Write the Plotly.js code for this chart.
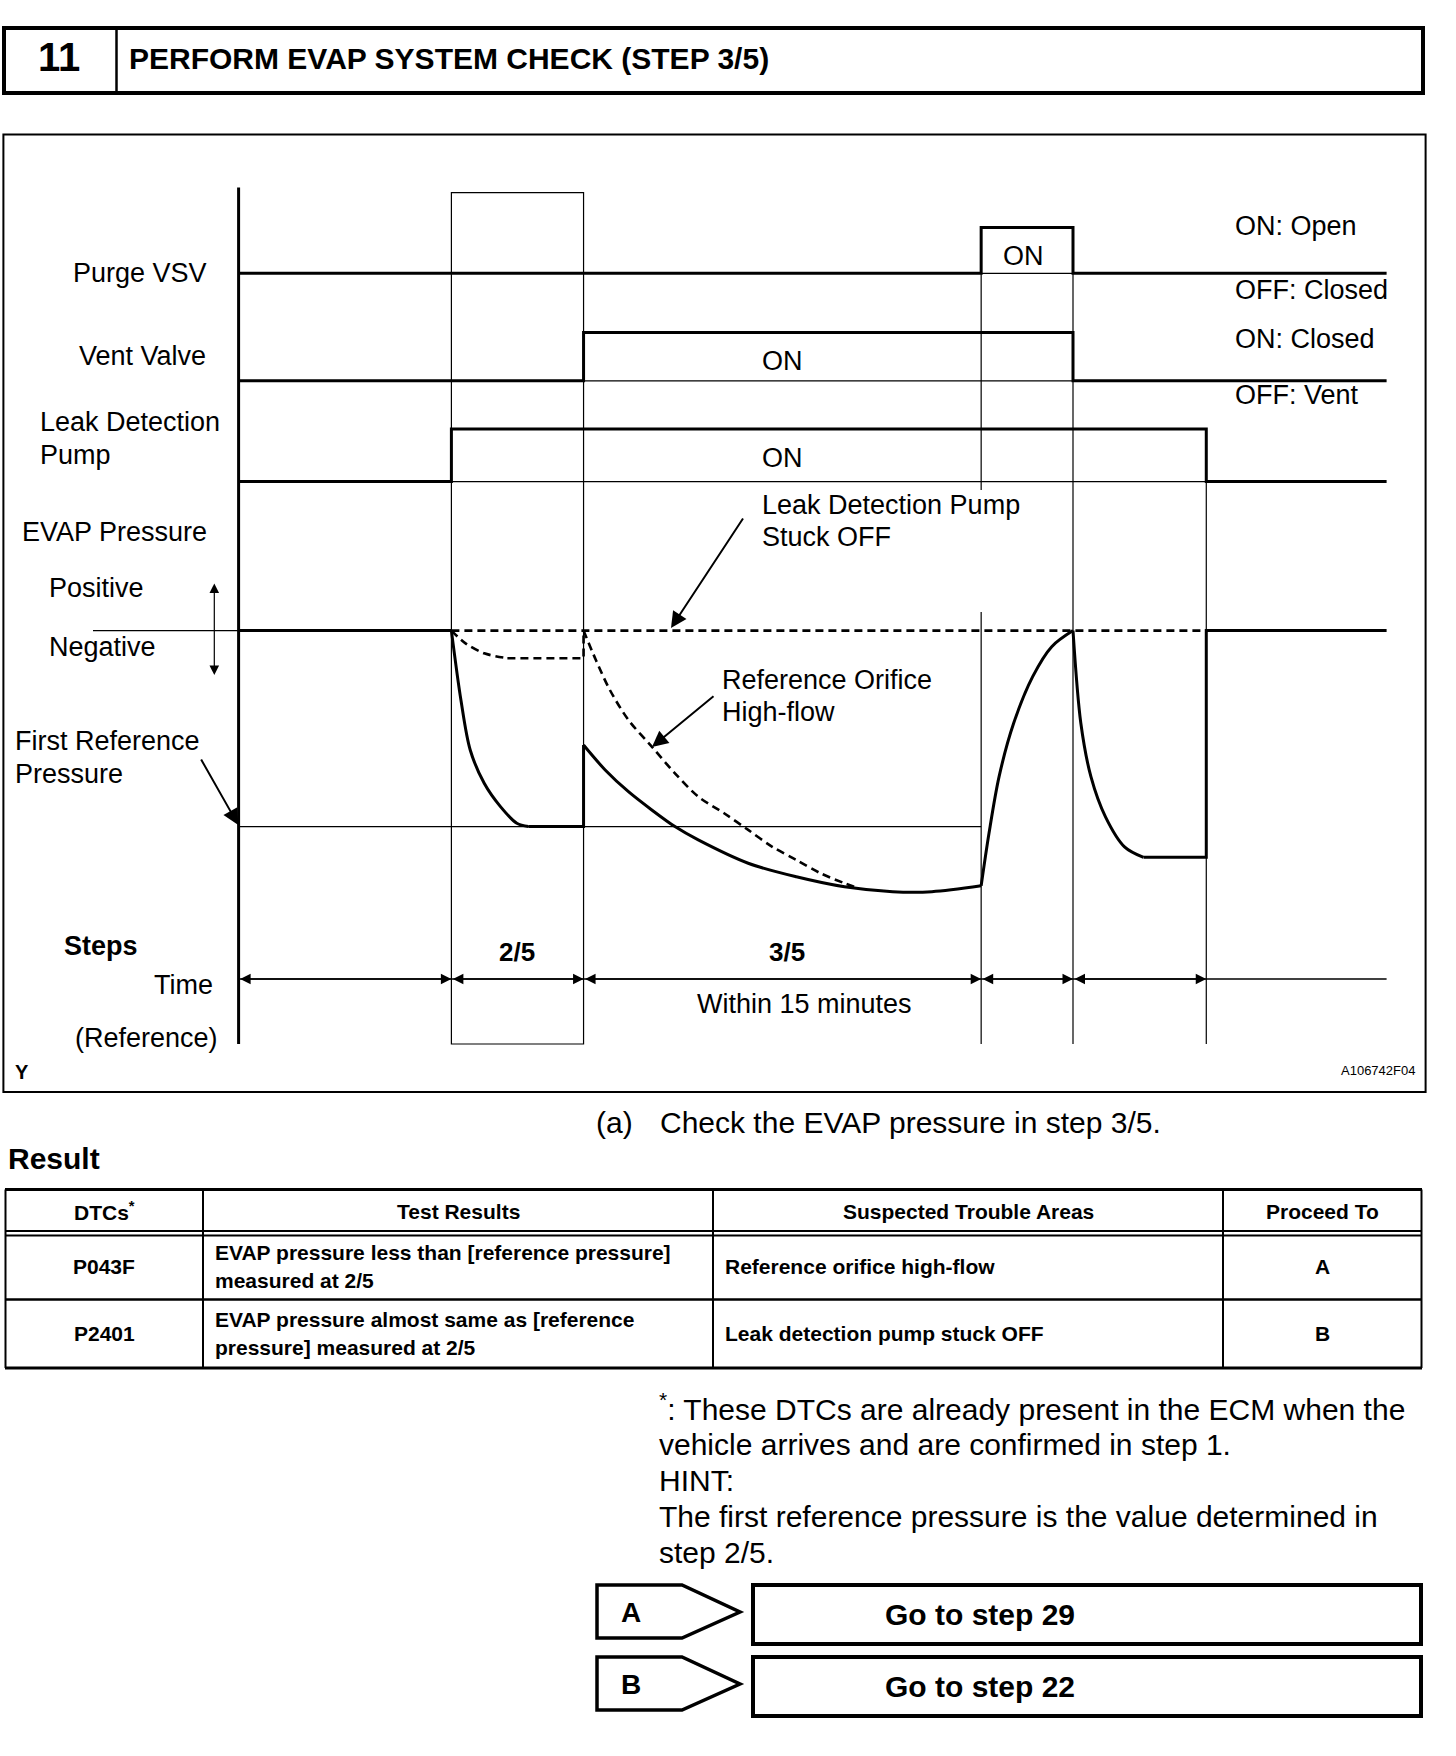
<!DOCTYPE html>
<html><head><meta charset="utf-8">
<script src="https://cdn.plot.ly/plotly-3.0.1.min.js"></script>
<style>html,body{margin:0;padding:0;background:#fff;}#chart{width:1456px;height:1756px;}</style>
</head><body><div id="chart"></div>
<script>
// ---------------- data ----------------
const phaseBounds = [0, 19.0, 30.8, 66.3, 74.5, 86.4];   // time marks (arbitrary units)
const timeEnd = 102.5;
const stepLabels = ['2/5', '3/5'];
const stepLabelT = [24.9, 49.0];

// on/off signals (0 = OFF, 1 = ON)
const purgeT = [0, 66.3, 66.3, 74.5, 74.5, 102.5];
const purgeState = [0, 0, 1, 1, 0, 0];
const ventT = [0, 30.8, 30.8, 74.5, 74.5, 102.5];
const ventState = [0, 0, 1, 1, 0, 0];
const pumpT = [0, 19.0, 19.0, 86.4, 86.4, 102.5];
const pumpState = [0, 0, 1, 1, 0, 0];

// EVAP pressure (0 = atmospheric, -1 = first reference pressure)
const refPressure = -1.0;
const evapIdleT = [0, 19.0];
const evapIdleP = [0, 0];
const evapStep2T = [19.0, 19.85, 20.68, 21.93, 23.38, 24.84, 25.88];
const evapStep2P = [0, -0.354, -0.609, -0.779, -0.898, -0.983, -1.0];
const evapHoldT = [25.88, 30.8, 30.8];
const evapHoldP = [-1.0, -1.0, -0.584];
const evapStep3T = [30.8, 32.73, 34.81, 36.89, 38.96, 41.04, 45.5, 49.8, 54.1, 58.4, 61.9, 66.3];
const evapStep3P = [-0.584, -0.711, -0.822, -0.915, -1.0, -1.068, -1.187, -1.256, -1.307, -1.332, -1.332, -1.302];
const evapPurgeT = [66.3, 67.0, 67.9, 69.2, 70.9, 72.6, 74.5];
const evapPurgeP = [-1.302, -1.034, -0.745, -0.473, -0.235, -0.082, 0];
const evapStep4T = [74.5, 75.2, 76.1, 77.4, 79.1, 80.8];
const evapStep4P = [0, -0.473, -0.745, -0.950, -1.103, -1.157];
const evapEndT = [80.8, 86.4, 86.4, 102.5];
const evapEndP = [-1.157, -1.157, 0, 0];
// dashed: reference orifice high-flow
const orificeStep2T = [19.0, 20.26, 21.93, 24.0];
const orificeStep2P = [0, -0.065, -0.116, -0.141];
const orificeHoldT = [24.0, 30.8, 30.8];
const orificeHoldP = [-0.141, -0.141, 0];
const orificeStep3T = [30.8, 31.9, 33.15, 34.81, 36.89, 38.96, 41.04, 43.35, 45.5, 47.65, 49.8, 51.96, 54.1, 55.4];
const orificeStep3P = [0, -0.150, -0.303, -0.456, -0.592, -0.728, -0.847, -0.932, -1.017, -1.103, -1.170, -1.238, -1.289, -1.315];
// dashed: leak detection pump stuck OFF
const stuckOffT = [19.0, 86.4];
const stuckOffP = [0, 0];

// table content
const tableHeaders = ['DTCs<sup>*</sup>', 'Test Results', 'Suspected Trouble Areas', 'Proceed To'];
const dtcCodes = ['P043F', 'P2401'];
const testResults = [['EVAP pressure less than [reference pressure]', 'measured at 2/5'],
                     ['EVAP pressure almost same as [reference', 'pressure] measured at 2/5']];
const troubleAreas = ['Reference orifice high-flow', 'Leak detection pump stuck OFF'];
const proceedTo = ['A', 'B'];
const gotoSteps = ['Go to step 29', 'Go to step 22'];
const footLines = ['<sup>*</sup>: These DTCs are already present in the ECM when the',
                   'vehicle arrives and are confirmed in step 1.',
                   'HINT:',
                   'The first reference pressure is the value determined in',
                   'step 2/5.'];

// ---------------- layout helpers ----------------
const W = 1456, H = 1756;
const FONT = 'Liberation Sans, Arial, Helvetica, sans-serif';
const T0PX = 238.6, PX_PER_T = 11.2;
const pX = v => v / W;
const pY = v => 1 - v / H;
function levelAxis(zeroPx, unitPx, topPx, botPx) {
  return {domain: [pY(botPx), pY(topPx)], range: [-(botPx - zeroPx) / unitPx, (zeroPx - topPx) / unitPx],
          visible: false, fixedrange: true, anchor: 'x'};
}
function tr(x, y, yaxis, extra) {
  return {type: 'scatter', mode: 'lines', x: x, y: y, xaxis: 'x', yaxis: yaxis, hoverinfo: 'skip',
          line: Object.assign({color: '#000', width: 3}, extra || {})};
}
const DASH = {dash: '8px,5px', width: 2.6};
const SPL = {shape: 'spline', smoothing: 0.9};

const traces = [
  tr(purgeT, purgeState, 'y2'),
  tr(ventT, ventState, 'y3'),
  tr(pumpT, pumpState, 'y4'),
  tr(evapIdleT, evapIdleP, 'y'),
  tr(evapStep2T, evapStep2P, 'y', SPL),
  tr(evapHoldT, evapHoldP, 'y'),
  tr(evapStep3T, evapStep3P, 'y', SPL),
  tr(evapPurgeT, evapPurgeP, 'y', SPL),
  tr(evapStep4T, evapStep4P, 'y', SPL),
  tr(evapEndT, evapEndP, 'y'),
  tr(orificeStep2T, orificeStep2P, 'y', Object.assign({}, DASH, SPL)),
  tr(orificeHoldT, orificeHoldP, 'y', DASH),
  tr(orificeStep3T, orificeStep3P, 'y', Object.assign({}, DASH, SPL)),
  tr(stuckOffT, stuckOffP, 'y', DASH)
];

// ---------------- shapes ----------------
const K = '#000';
const shapes = [];
function pLine(x0, y0, x1, y1, w) { shapes.push({type: 'line', xref: 'paper', yref: 'paper', x0: pX(x0), x1: pX(x1), y0: pY(y0), y1: pY(y1), line: {color: K, width: w}}); }
function pRect(x0, y0, x1, y1, w) { shapes.push({type: 'rect', xref: 'paper', yref: 'paper', x0: pX(x0), x1: pX(x1), y0: pY(y0), y1: pY(y1), line: {color: K, width: w}}); }
function tVLine(t, y0, y1, w) { shapes.push({type: 'line', xref: 'x', yref: 'paper', x0: t, x1: t, y0: pY(y0), y1: pY(y1), line: {color: K, width: w}}); }

// header
pRect(4, 28, 1423, 93, 4);
pLine(116.5, 28, 116.5, 93, 2.5);
// diagram frame
pRect(3.4, 134.4, 1425.6, 1092, 2);
// time axis and phase verticals
tVLine(phaseBounds[0], 187.5, 1044, 3);
shapes.push({type: 'rect', xref: 'x', yref: 'paper', x0: phaseBounds[1], x1: phaseBounds[2], y0: pY(192.6), y1: pY(1044), line: {color: K, width: 1.2}});
tVLine(phaseBounds[3], 227, 490, 1.2);
tVLine(phaseBounds[3], 612, 1044, 1.2);
tVLine(phaseBounds[4], 227, 1044, 1.2);
tVLine(phaseBounds[5], 429, 1044, 1.2);
// thin baselines under ON pulses
shapes.push({type: 'line', xref: 'x', yref: 'y2', x0: phaseBounds[3], x1: phaseBounds[4], y0: 0, y1: 0, line: {color: K, width: 1.2}});
shapes.push({type: 'line', xref: 'x', yref: 'y3', x0: phaseBounds[2], x1: phaseBounds[4], y0: 0, y1: 0, line: {color: K, width: 1.2}});
shapes.push({type: 'line', xref: 'x', yref: 'y4', x0: phaseBounds[1], x1: phaseBounds[5], y0: 0, y1: 0, line: {color: K, width: 1.2}});
// first reference pressure line
shapes.push({type: 'line', xref: 'x', yref: 'y', x0: phaseBounds[0], x1: phaseBounds[3], y0: refPressure, y1: refPressure, line: {color: K, width: 1.2}});
// zero pressure extension to the left
shapes.push({type: 'line', xref: 'paper', yref: 'y', x0: pX(93), x1: pX(T0PX), y0: 0, y1: 0, line: {color: K, width: 1.2}});
// time row line
shapes.push({type: 'line', xref: 'x', yref: 'paper', x0: phaseBounds[0], x1: timeEnd, y0: pY(979), y1: pY(979), line: {color: K, width: 1.5}});

// table
const colX = [5.5, 203, 713, 1223, 1421.5];
const tTop = 1189.5, tHead = 1231, tHead2 = 1235.5, tRow = 1299.5, tBot = 1368;
pLine(5, tTop, 1422, tTop, 3);
pLine(5, tBot, 1422, tBot, 3);
pLine(5, tHead, 1422, tHead, 1.8);
pLine(5, tHead2, 1422, tHead2, 1.8);
pLine(5, tRow, 1422, tRow, 2.3);
colX.forEach(x => pLine(x, tTop, x, tBot, 2));

// buttons
const btnTop = [1585, 1657];
btnTop.forEach(y0 => {
  const y1 = y0 + 53, ym = y0 + 27;
  shapes.push({type: 'path', xref: 'paper', yref: 'paper', line: {color: K, width: 3.5},
    path: `M${pX(597)},${pY(y0)} L${pX(682)},${pY(y0)} L${pX(740)},${pY(ym)} L${pX(682)},${pY(y1)} L${pX(597)},${pY(y1)} Z`});
  pRect(753, y0, 1421, y0 + 59, 4);
});

// ---------------- annotations ----------------
const ann = [];
function txt(text, x, y, size, anchor, extra) {
  ann.push(Object.assign({xref: 'paper', yref: 'paper', x: pX(x), y: pY(y), text: text, showarrow: false,
    xanchor: anchor || 'left', yanchor: 'middle', font: {size: size, color: K, family: FONT}}, extra || {}));
}
function tTxt(text, t, y, size, anchor) {
  ann.push({xref: 'x', yref: 'paper', x: t, y: pY(y), text: text, showarrow: false,
    xanchor: anchor || 'center', yanchor: 'middle', font: {size: size, color: K, family: FONT}});
}
function arrow(xTip, yTip, ax, ay, w, size, both) {
  ann.push({xref: 'paper', yref: 'paper', x: pX(xTip), y: pY(yTip), ax: ax, ay: ay, text: '', showarrow: true,
    arrowhead: 2, arrowsize: size, arrowwidth: w, arrowcolor: K,
    arrowside: both ? 'end+start' : 'end', startarrowhead: 2, startarrowsize: size});
}

// header text
txt('<b>11</b>', 58.5, 57, 40, 'center');
txt('<b>PERFORM EVAP SYSTEM CHECK (STEP 3/5)</b>', 127, 58, 30);

// signal labels
txt('Purge VSV', 209, 273, 27, 'right');
txt('Vent Valve', 208, 356, 27, 'right');
txt('Leak Detection', 38, 422, 27);
txt('Pump', 38, 455, 27);
txt('EVAP Pressure', 20, 532, 27);
txt('Positive', 47, 588, 27);
txt('Negative', 47, 647, 27);
txt('First Reference', 12.6, 741, 27);
txt('Pressure', 12.6, 774, 27);
txt('<b>Steps</b>', 62, 946, 27);
txt('Time', 215, 985, 27, 'right');
txt('(Reference)', 219.5, 1038, 27, 'right');
txt('<b>Y</b>', 13, 1072, 20);
txt('A106742F04', 1417, 1070, 13, 'right');
txt('ON: Open', 1233, 226, 27);
txt('OFF: Closed', 1233, 290, 27);
txt('ON: Closed', 1233, 339, 27);
txt('OFF: Vent', 1233, 395, 27);
txt('Leak Detection Pump', 759.7, 505, 27);
txt('Stuck OFF', 759.7, 536.5, 27);
txt('Reference Orifice', 719.7, 680, 27);
txt('High-flow', 719.7, 712, 27);

// ON labels inside pulses (data coordinates)
ann.push({xref: 'x', yref: 'y2', x: 70.1, y: 0.37, text: 'ON', showarrow: false, xanchor: 'center', yanchor: 'middle', font: {size: 27, color: K, family: FONT}});
ann.push({xref: 'x', yref: 'y3', x: 48.6, y: 0.41, text: 'ON', showarrow: false, xanchor: 'center', yanchor: 'middle', font: {size: 27, color: K, family: FONT}});
ann.push({xref: 'x', yref: 'y4', x: 48.6, y: 0.44, text: 'ON', showarrow: false, xanchor: 'center', yanchor: 'middle', font: {size: 27, color: K, family: FONT}});

// step labels and time row
stepLabels.forEach((s, i) => tTxt('<b>' + s + '</b>', stepLabelT[i], 952, 26));
tTxt('Within 15 minutes', 50.5, 1004, 27);
for (let i = 0; i < phaseBounds.length - 1; i++) {
  ann.push({xref: 'x', yref: 'paper', x: phaseBounds[i + 1], y: pY(979), axref: 'x', ayref: 'pixel',
    ax: phaseBounds[i], ay: 0, text: '', showarrow: true, arrowside: 'end+start',
    arrowhead: 2, startarrowhead: 2, arrowsize: 1.4, startarrowsize: 1.4, arrowwidth: 1.5, arrowcolor: K});
}

// leader arrows
arrow(214.3, 583.5, 0, 93, 1.2, 1.6, true);           // positive / negative
arrow(238.3, 825, -38, -67, 2, 1.6, false);           // first reference pressure
arrow(671, 628, 73, -111, 2, 1.6, false);             // pump stuck OFF
arrow(652, 747, 63, -52, 2, 1.6, false);              // reference orifice high-flow

// text below diagram
txt('(a)', 594, 1122, 30);
txt('Check the EVAP pressure in step 3/5.', 658, 1122, 30);
txt('<b>Result</b>', 6, 1158, 30);

// table text
const colC = [104, 458, 968, 1322.5];
tableHeaders.forEach((h, i) => txt('<b>' + h + '</b>', colC[i], 1211, 21, 'center'));
const rowC = [1266, 1333];
const rowL = [[1252, 1280], [1319, 1347]];
dtcCodes.forEach((c, r) => {
  txt('<b>' + c + '</b>', colC[0], rowC[r], 21, 'center');
  testResults[r].forEach((l, k) => txt('<b>' + l + '</b>', 213, rowL[r][k], 21));
  txt('<b>' + troubleAreas[r] + '</b>', 722.5, rowC[r], 21);
  txt('<b>' + proceedTo[r] + '</b>', colC[3], rowC[r], 21, 'center');
});

// footnote
const footY = [1407, 1444, 1480, 1516.5, 1552.5];
footLines.forEach((l, i) => txt(l, 656.6, footY[i], 30));

// buttons text
proceedTo.forEach((p, i) => {
  txt('<b>' + p + '</b>', 631, btnTop[i] + 27, 28, 'center');
  txt('<b>' + gotoSteps[i] + '</b>', 883, btnTop[i] + 29, 30);
});

const layout = {
  width: W, height: H, margin: {l: 0, r: 0, t: 0, b: 0},
  paper_bgcolor: '#fff', plot_bgcolor: 'rgba(0,0,0,0)', showlegend: false,
  font: {family: FONT, color: K},
  xaxis: {domain: [0, 1], range: [-T0PX / PX_PER_T, (W - T0PX) / PX_PER_T], visible: false, fixedrange: true},
  yaxis: levelAxis(630.6, 196, 560, 1050),
  yaxis2: levelAxis(273.3, 45.9, 212, 290),
  yaxis3: levelAxis(380.8, 48.2, 318, 396),
  yaxis4: levelAxis(481.6, 52.6, 414, 500),
  shapes: shapes,
  annotations: ann
};

Plotly.newPlot('chart', traces, layout, {staticPlot: true, displayModeBar: false});
</script>
</body></html>
